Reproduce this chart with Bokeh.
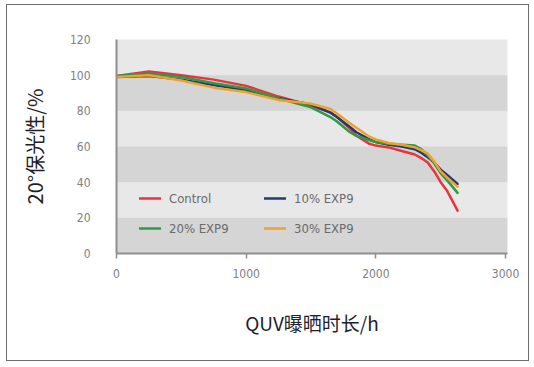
from bokeh.plotting import figure
from bokeh.models import Legend, LegendItem, Range1d, FixedTicker
from bokeh.embed import file_html
from bokeh.resources import INLINE

hours = [0, 250, 500, 750, 1000, 1250, 1400, 1500, 1650, 1700, 1800, 1850, 1950, 2000,
         2100, 2200, 2300, 2350, 2400, 2450, 2500, 2550, 2630]
control = [99.5, 102, 100, 97.5, 94, 88, 85, 83, 79, 76.5, 70, 66, 61.5, 60.5,
           59.5, 57.5, 55.5, 53.5, 51, 46, 40, 35, 24]
exp10 = [99, 99.5, 97.5, 94.5, 91.5, 87, 85, 83.5, 79, 76.5, 71, 68, 64, 62.5,
         61, 60, 58.5, 56.5, 54, 51, 47, 44, 39]
exp20 = [99.5, 101, 99, 95.5, 92.5, 87, 84, 82, 76.5, 74, 68, 66, 63.5, 62.5,
         61.5, 61, 60.5, 58.5, 55, 50.5, 45, 41, 34]
exp30 = [99, 100, 97, 93, 90.5, 86, 85, 84, 81, 78.5, 73, 70.5, 65.5, 64,
         62, 61, 59.5, 58, 56, 51.5, 46, 42.5, 37.5]

series_names = ["Control", "10% EXP9", "20% EXP9", "30% EXP9"]
series_vals = [control, exp10, exp20, exp30]
colors = ["#e8343c", "#1f3b73", "#2e9a48", "#f2a02a"]

band_bottom = [0, 40, 80]
band_top = [20, 60, 100]

x_ticks = [0, 1000, 2000, 3000]
y_ticks = [0, 20, 40, 60, 80, 100, 120]

p = figure(width=523, height=357, output_backend="svg", toolbar_location=None,
           x_range=Range1d(0, 3015), y_range=Range1d(0, 120),
           min_border_left=109, min_border_top=34, min_border_right=23, min_border_bottom=109)
p.styles = {"border": "1px solid #6d6d6d", "margin-left": "6px", "margin-top": "4px"}
p.background_fill_color = "#e8e8e8"
p.border_fill_color = "white"
p.outline_line_color = None
p.grid.visible = False

p.quad(left=0, right=3015, bottom=band_bottom, top=band_top, fill_color="#d5d5d5", line_color=None)

renderers = []
for name, vals, c in zip(series_names, series_vals, colors):
    r = p.line(hours, vals, line_color=c, line_width=2.5, line_join="round", line_cap="round")
    renderers.append(r)

tick_font = "DejaVu Sans Condensed, Liberation Sans, sans-serif"
for ax in (p.xaxis[0], p.yaxis[0]):
    ax.axis_line_color = "#8f8f8f"
    ax.axis_line_width = 2
    ax.major_tick_line_color = "#8f8f8f"
    ax.major_tick_line_width = 1.5
    ax.minor_tick_line_color = None
    ax.major_label_text_color = "#808080"
    ax.major_label_text_font = tick_font
    ax.major_label_text_font_size = "12px"
    ax.axis_label_text_font = "Noto Sans CJK SC"
    ax.axis_label_text_font_style = "normal"
    ax.axis_label_text_color = "#1e1e2a"

p.xaxis.axis_label_text_font_size = "19px"
p.yaxis.axis_label_text_font_size = "20px"
p.xaxis.ticker = FixedTicker(ticks=x_ticks)
p.yaxis.ticker = FixedTicker(ticks=y_ticks)
p.xaxis.major_tick_out = 5
p.xaxis.major_tick_in = 0
p.yaxis.major_tick_out = 0
p.yaxis.major_tick_in = 0
p.xaxis.major_label_standoff = 10
p.yaxis.major_label_standoff = 26
p.xaxis.axis_label = "QUV曝晒时长/h"
p.yaxis.axis_label = "20°保光性/%"
p.xaxis.axis_label_standoff = 28
p.yaxis.axis_label_standoff = 18

def make_legend(items, x, y):
    lg = Legend(items=items, location=(x, y), orientation="vertical",
                background_fill_alpha=0, border_line_color=None,
                padding=0, margin=0, spacing=10,
                glyph_width=22, glyph_height=20, label_height=20, label_standoff=8,
                label_text_font=tick_font, label_text_font_size="13px",
                label_text_color="#6a6a6a")
    p.add_layout(lg, "center")

make_legend([LegendItem(label=series_names[0], renderers=[renderers[0]]),
             LegendItem(label=series_names[2], renderers=[renderers[2]])], 23, 15)
make_legend([LegendItem(label=series_names[1], renderers=[renderers[1]]),
             LegendItem(label=series_names[3], renderers=[renderers[3]])], 148, 15)

open("out.html", "w").write(file_html(p, INLINE))
